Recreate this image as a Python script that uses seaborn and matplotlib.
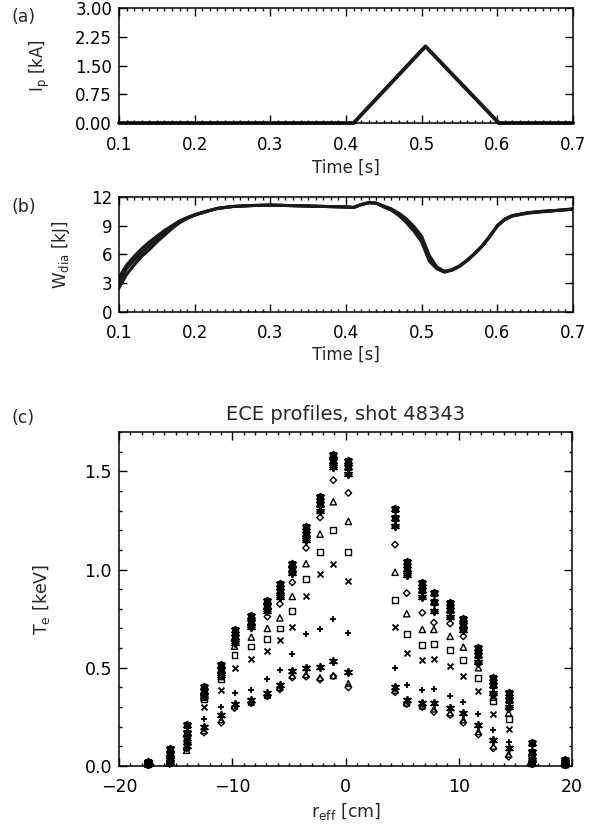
import numpy as np
import pandas as pd
import seaborn as sns
import matplotlib
matplotlib.use("Agg")
import matplotlib.pyplot as plt
from matplotlib.ticker import MultipleLocator, NullLocator

# ─── Data ─────────────────────────────────────────────────────────────────────
# (a) plasma current
ip_time = [0.100, 0.410, 0.505, 0.602, 0.700]
ip_ka = [0.00, 0.00, 2.00, 0.00, 0.00]

# (b) diamagnetic energy, three overlapping traces
w_time = [0.100, 0.110, 0.120, 0.130, 0.140, 0.150, 0.160, 0.170, 0.180, 0.190,
          0.200, 0.215, 0.230, 0.250, 0.275, 0.300, 0.325, 0.350, 0.375, 0.400,
          0.410, 0.420, 0.430, 0.440, 0.450, 0.460, 0.470, 0.480, 0.490, 0.500,
          0.510, 0.520, 0.530, 0.540, 0.550, 0.560, 0.570, 0.580, 0.590, 0.600,
          0.610, 0.620, 0.640, 0.660, 0.680, 0.700]
w_upper = [3.6, 4.9, 5.8, 6.6, 7.3, 7.9, 8.5, 9.0, 9.5, 9.85,
           10.15, 10.5, 10.8, 11.0, 11.1, 11.15, 11.1, 11.05, 11.0, 10.95,
           10.9, 11.2, 11.4, 11.35, 11.05, 10.75, 10.3, 9.7, 8.9, 7.9,
           5.9, 4.7, 4.25, 4.4, 4.8, 5.4, 6.1, 6.9, 7.9, 9.0,
           9.7, 10.05, 10.35, 10.5, 10.6, 10.75]
w_middle = [3.1, 4.5, 5.4, 6.2, 6.9, 7.6, 8.3, 8.9, 9.4, 9.8,
            10.1, 10.5, 10.8, 11.0, 11.1, 11.15, 11.1, 11.05, 11.0, 10.95,
            10.9, 11.2, 11.4, 11.35, 11.0, 10.7, 10.2, 9.5, 8.7, 7.6,
            5.6, 4.6, 4.2, 4.4, 4.8, 5.4, 6.1, 6.9, 7.9, 9.0,
            9.7, 10.05, 10.35, 10.5, 10.6, 10.75]
w_lower = [2.5, 3.9, 4.9, 5.8, 6.5, 7.3, 8.0, 8.7, 9.3, 9.75,
           10.1, 10.45, 10.8, 11.0, 11.1, 11.15, 11.1, 11.05, 11.0, 10.95,
           10.9, 11.2, 11.4, 11.35, 10.95, 10.6, 10.05, 9.3, 8.4, 7.3,
           5.3, 4.5, 4.15, 4.35, 4.75, 5.35, 6.05, 6.85, 7.85, 8.95,
           9.65, 10.0, 10.3, 10.45, 10.6, 10.7]

# (c) ECE profiles: channel radii and Te of successive time slices
r_eff = [-17.44, -15.53, -14.03, -12.5, -10.97, -9.8, -8.32, -6.9, -5.8, -4.7,
         -3.49, -2.25, -1.08, 0.25, 4.37, 5.4, 6.78, 7.8, 9.23, 10.4,
         11.73, 13.05, 14.4, 16.45, 19.4]
te_flat_hi = [0.02, 0.085, 0.21, 0.40, 0.515, 0.69, 0.765, 0.84, 0.925, 1.03,
              1.215, 1.37, 1.585, 1.55, 1.31, 1.04, 0.93, 0.88, 0.83, 0.75,
              0.60, 0.45, 0.37, 0.115, 0.03]
te_flat_mid = [0.015, 0.06, 0.17, 0.38, 0.49, 0.655, 0.735, 0.815, 0.89, 1.005,
               1.18, 1.335, 1.55, 1.52, 1.26, 1.005, 0.895, 0.835, 0.795, 0.72,
               0.565, 0.41, 0.335, 0.07, 0.02]
te_flat_lo = [0.01, 0.03, 0.12, 0.355, 0.465, 0.625, 0.71, 0.79, 0.86, 0.98,
              1.15, 1.30, 1.52, 1.485, 1.22, 0.97, 0.86, 0.79, 0.76, 0.69,
              0.53, 0.37, 0.30, 0.03, 0.01]
te_diamond = [0.01, 0.05, 0.15, 0.36, 0.47, 0.64, 0.71, 0.76, 0.825, 0.935,
              1.11, 1.265, 1.455, 1.39, 1.127, 0.88, 0.78, 0.73, 0.725, 0.66,
              0.52, 0.36, 0.29, 0.05, 0.01]
te_triangle = [0.01, 0.04, 0.08, 0.35, 0.455, 0.61, 0.656, 0.70, 0.754, 0.863,
               1.03, 1.18, 1.345, 1.245, 0.986, 0.775, 0.695, 0.695, 0.66, 0.605,
               0.50, 0.35, 0.27, 0.03, 0.01]
te_square = [0.01, 0.05, 0.15, 0.34, 0.44, 0.563, 0.608, 0.647, 0.70, 0.79,
             0.95, 1.09, 1.20, 1.09, 0.846, 0.67, 0.614, 0.62, 0.59, 0.54,
             0.448, 0.33, 0.237, 0.04, 0.01]
te_cross = [0.01, 0.04, 0.13, 0.30, 0.385, 0.50, 0.546, 0.585, 0.64, 0.707,
            0.865, 0.975, 1.03, 0.94, 0.707, 0.577, 0.54, 0.547, 0.51, 0.46,
            0.382, 0.267, 0.19, 0.03, 0.01]
te_plus = [0.01, 0.03, 0.11, 0.24, 0.30, 0.37, 0.385, 0.444, 0.49, 0.57,
           0.67, 0.695, 0.75, 0.677, 0.50, 0.41, 0.386, 0.394, 0.355, 0.326,
           0.264, 0.183, 0.123, 0.02, 0.01]
te_low_star = [0.01, 0.02, 0.10, 0.20, 0.258, 0.317, 0.337, 0.37, 0.41, 0.486,
               0.50, 0.505, 0.535, 0.48, 0.40, 0.335, 0.32, 0.32, 0.295, 0.27,
               0.21, 0.13, 0.09, 0.015, 0.01]
te_low_triangle = [0.008, 0.015, 0.095, 0.18, 0.235, 0.305, 0.325, 0.36, 0.40, 0.46,
                   0.465, 0.45, 0.46, 0.42, 0.385, 0.32, 0.305, 0.29, 0.27, 0.235,
                   0.175, 0.10, 0.06, 0.012, 0.006]
te_low_diamond = [0.005, 0.01, 0.09, 0.17, 0.22, 0.295, 0.32, 0.355, 0.39, 0.45,
                  0.455, 0.44, 0.457, 0.40, 0.375, 0.315, 0.30, 0.275, 0.26, 0.22,
                  0.16, 0.09, 0.047, 0.01, 0.005]

# ─── Style ────────────────────────────────────────────────────────────────────
sns.set_theme(style="ticks")
plt.rcParams["font.family"] = ["DejaVu Sans"]
plt.rcParams["mathtext.default"] = "regular"
plt.rcParams["axes.linewidth"] = 1.1


def idl_axes(ax, labelsize=12):
    ax.tick_params(which="both", direction="in", top=True, right=True,
                   width=1.0, colors="black", labelsize=labelsize)
    ax.tick_params(which="major", length=6)
    ax.tick_params(which="minor", length=2.5)
    ax.tick_params(axis="x", pad=9)
    ax.tick_params(axis="y", pad=5)
    for sp in ax.spines.values():
        sp.set_color("black")
        sp.set_linewidth(1.1)


fig = plt.figure(figsize=(5.93, 8.24), dpi=100)
ax_a = fig.add_axes([0.2007, 0.8507, 0.7656, 0.1396])
ax_b = fig.add_axes([0.2007, 0.6214, 0.7656, 0.1396])
ax_c = fig.add_axes([0.2007, 0.0704, 0.7640, 0.4053])

# ─── (a) ──────────────────────────────────────────────────────────────────────
df_ip = pd.DataFrame({"t": ip_time, "ip": ip_ka})
sns.lineplot(data=df_ip, x="t", y="ip", ax=ax_a, color="#1a1a1a", lw=2.8,
             clip_on=False)
ax_a.set_xlim(0.1, 0.7)
ax_a.set_ylim(0, 3)
ax_a.xaxis.set_major_locator(MultipleLocator(0.1))
ax_a.xaxis.set_minor_locator(MultipleLocator(0.01))
ax_a.yaxis.set_major_locator(MultipleLocator(0.75))
ax_a.yaxis.set_minor_locator(NullLocator())
ax_a.yaxis.set_major_formatter(plt.FormatStrFormatter("%.2f"))
ax_a.xaxis.set_major_formatter(plt.FormatStrFormatter("%.1f"))
ax_a.set_xlabel("Time [s]", fontsize=12)
ax_a.set_ylabel("I$_{p}$ [kA]", fontsize=12)
ax_a.xaxis.set_label_coords(0.5, -0.31)
ax_a.yaxis.set_label_coords(-0.148, 0.5)
idl_axes(ax_a)

# ─── (b) ──────────────────────────────────────────────────────────────────────
df_w = pd.DataFrame({"t": w_time * 3,
                     "w": w_upper + w_middle + w_lower,
                     "trace": ["u"] * len(w_time) + ["m"] * len(w_time) + ["l"] * len(w_time)})
sns.lineplot(data=df_w, x="t", y="w", units="trace", estimator=None, ax=ax_b,
             color="#1a1a1a", lw=2.2)
ax_b.set_xlim(0.1, 0.7)
ax_b.set_ylim(0, 12)
ax_b.xaxis.set_major_locator(MultipleLocator(0.1))
ax_b.xaxis.set_minor_locator(MultipleLocator(0.01))
ax_b.yaxis.set_major_locator(MultipleLocator(3))
ax_b.yaxis.set_minor_locator(NullLocator())
ax_b.xaxis.set_major_formatter(plt.FormatStrFormatter("%.1f"))
ax_b.set_xlabel("Time [s]", fontsize=12)
ax_b.set_ylabel("W$_{dia}$ [kJ]", fontsize=12)
ax_b.xaxis.set_label_coords(0.5, -0.29)
ax_b.yaxis.set_label_coords(-0.104, 0.5)
idl_axes(ax_b)

# ─── (c) ──────────────────────────────────────────────────────────────────────
asterisk = (6, 2, 0)
open_kw = dict(facecolor="none", edgecolor="black", linewidth=1.0, color="black")
line_kw = dict(color="black", linewidth=1.3)
solid_kw = dict(color="black", edgecolor="black", linewidth=0.8)

profiles = [
    (te_flat_hi, "s", 20, solid_kw),
    (te_flat_hi, asterisk, 30, line_kw),
    (te_flat_mid, asterisk, 34, line_kw),
    (te_flat_mid, "s", 14, solid_kw),
    (te_flat_lo, "D", 14, solid_kw),
    (te_flat_lo, asterisk, 28, line_kw),
    (te_diamond, "D", 11, open_kw),
    (te_triangle, "^", 20, open_kw),
    (te_square, "s", 18, open_kw),
    (te_cross, "x", 18, line_kw),
    (te_plus, "+", 20, line_kw),
    (te_low_star, asterisk, 28, line_kw),
    (te_low_star, "s", 10, solid_kw),
    (te_low_triangle, "^", 18, open_kw),
    (te_low_diamond, "D", 11, open_kw),
]
for te, mk, size, kw in profiles:
    df_p = pd.DataFrame({"r": r_eff, "te": te})
    sns.scatterplot(data=df_p, x="r", y="te", ax=ax_c, marker=mk, s=size,
                    legend=False, clip_on=False, zorder=3, **kw)

ax_c.set_xlim(-20, 20)
ax_c.set_ylim(0, 1.7)
ax_c.xaxis.set_major_locator(MultipleLocator(10))
ax_c.xaxis.set_minor_locator(MultipleLocator(1))
ax_c.yaxis.set_major_locator(MultipleLocator(0.5))
ax_c.yaxis.set_minor_locator(MultipleLocator(0.1))
ax_c.yaxis.set_major_formatter(plt.FormatStrFormatter("%.1f"))
ax_c.set_title("ECE profiles, shot 48343", fontsize=14, pad=9)
ax_c.set_xlabel("r$_{eff}$ [cm]", fontsize=12.5)
ax_c.set_ylabel("T$_{e}$ [keV]", fontsize=12.5)
ax_c.xaxis.set_label_coords(0.5, -0.105)
ax_c.yaxis.set_label_coords(-0.148, 0.5)
idl_axes(ax_c, labelsize=12.5)

# panel tags
fig.text(0.02, 0.979, "(a)", fontsize=12.5, va="center")
fig.text(0.02, 0.749, "(b)", fontsize=12.5, va="center")
fig.text(0.02, 0.493, "(c)", fontsize=12.5, va="center")

fig.savefig("out.png", dpi=100)
plt.close(fig)
